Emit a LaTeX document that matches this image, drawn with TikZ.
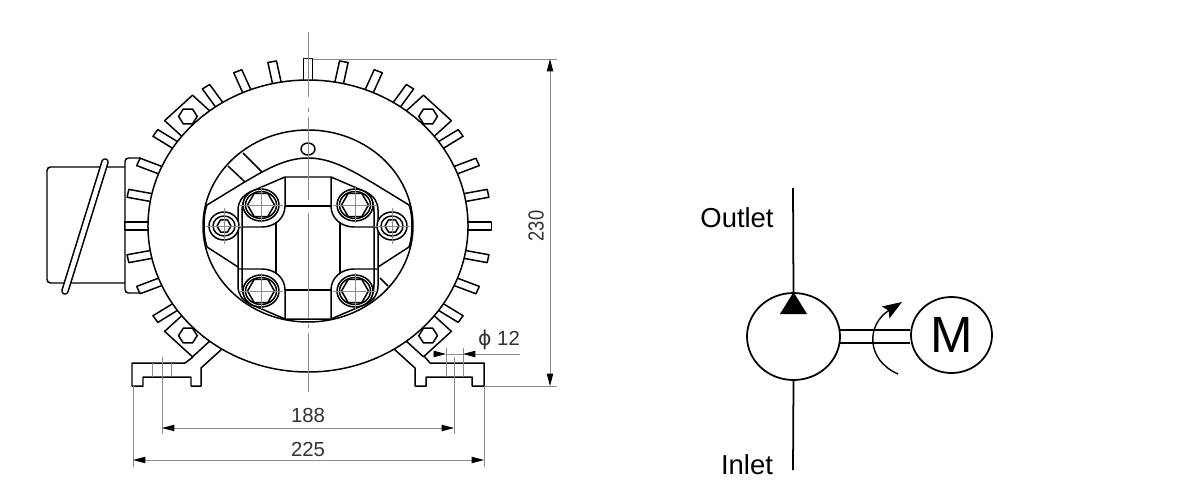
\documentclass[tikz,border=0pt]{standalone}
\usepackage{fontspec}
\setmainfont{Liberation Sans}
\newfontfamily\symfont{DejaVu Sans}
\usetikzlibrary{arrows.meta,shapes.geometric}
\colorlet{dimgray}{black!45}
\colorlet{dimtext}{black!80}
\tikzset{
  part/.style={line width=.85pt,line join=round},
  hair/.style={line width=.4pt,draw=dimgray},
  dimline/.style={line width=.5pt,draw=dimgray,>={Stealth[length=7pt,width=3.6pt,inset=0pt,black]}},
  dimlabel/.style={text=dimtext,inner sep=0pt,font=\fontsize{11.6}{14}\selectfont},
  hydro/.style={line width=1pt},
  hydrolabel/.style={inner sep=0pt,font=\fontsize{15.6}{18}\selectfont},
  ball/.style={draw,ellipse,line width=1pt,inner sep=0pt},
}
\newcommand{\hexnut}[1]{(0:#1) -- (60:#1) -- (120:#1) -- (180:#1) -- (240:#1) -- (300:#1) -- cycle}
\begin{document}
\begin{tikzpicture}[x=0.02cm,y=-0.02cm]
\useasboundingbox (0,0) rectangle (1189,500);
%Terminal box
\draw[part,rounded corners=2pt] (125,167) -- (47,167) -- (47,283) -- (125,283);
\draw[part,rounded corners=2pt] (141,158) -- (125,158) -- (125,293) -- (141,293);
\draw[line width=4.4pt,line cap=round] (105,162) -- (65,291);
\draw[line width=2.6pt,line cap=round,white] (105,162) -- (65,291);
%Housing with fins
\begin{scope}[shift={(308,226)},xscale=1.096]
  \draw[part] (0,0) ellipse[x radius=146,y radius=146];
  \foreach \a in {90,78.75,67.5,56.25,33.75,22.5,11.25,0,-11.25,-22.5,-33.75,101.25,112.5,123.75,146.25,157.5,168.75,180,191.25,202.5,213.75}
    \draw[part,rotate=\a] (146,-4) -- (167.5,-4) -- (167.5,4) -- (146,4);
  \foreach \a in {45,135,225,315}{
    \draw[part,rotate=\a] (145,-18) -- (167,-18) -- (167,18) -- (145,18);
    \draw[part,rotate=\a,shift={(155,0)},rotate=-\a] \hexnut{8.5};
  }
\end{scope}
%Feet
\draw[part] (222,349) -- (201,368) -- (201,386) -- (191,386) -- (191,377) -- (143,377) -- (143,386) -- (132,386) -- (132,363) -- (185,363) -- (193,357);
\draw[part] (394,349) -- (415,368) -- (415,386) -- (426,386) -- (426,377) -- (472,377) -- (472,386) -- (484,386) -- (484,363) -- (430,363) -- (424,356);
\draw[hair] (152,363) -- (152,377) (171,363) -- (171,377);
%Flange
\draw[part] (308,226) ellipse[x radius=105,y radius=96];
\draw[part] (308,158) .. controls (285,158) and (265,170) .. (243,183) -- (207,205) .. controls (203,215) and (203,235) .. (207,247) -- (238,267);
\draw[part] (308,158) .. controls (331,158) and (351,170) .. (373,183) -- (409,205) .. controls (413,215) and (413,235) .. (409,247) -- (378,267);
\draw[part] (228,166) -- (245,182) (243,153) -- (262,172) (380,278) -- (388,286);
\draw[part] (308,149) ellipse[x radius=7,y radius=6];
%Port block
\foreach \sx in {1,-1}{
  \foreach \sy in {1,-1}{
    \begin{scope}[shift={(308,248)},xscale=\sx,yscale=\sy]
      \draw[part] (0,-71) -- (-23,-71) -- (-58,-56) .. controls (-66,-52) and (-70,-46) .. (-70,-38) -- (-70,0);
      \draw[part] (-66,0) -- (-66,-36) .. controls (-66,-44) and (-64,-50) .. (-60,-54);
      \draw[part] (-23,-71) -- (-23,-42) .. controls (-23,-30) and (-33,-21) .. (-46,-21) -- (-70,-21);
      \draw[part] (-23,-42) -- (0,-42) (-32,-26) -- (-32,0);
      \draw[part,fill=white] (-47,-43) ellipse[x radius=18,y radius=16];
      \draw[part] (-47,-43) ellipse[x radius=15.5,y radius=13.5];
      \draw[part,shift={(-47,-43)}] \hexnut{13.5};
      \draw[hair] (-69,-43) -- (-25,-43) (-47,-61) -- (-47,-25);
    \end{scope}
  }
}
%Side screws
\foreach \sx in {1,-1}{
  \begin{scope}[shift={(308,226)},xscale=\sx]
    \draw[part,fill=white] (-84,0) ellipse[x radius=15,y radius=14];
    \draw[part] (-84,0) ellipse[x radius=11,y radius=10];
    \draw[part,shift={(-84,0)}] \hexnut{7};
    \draw[hair] (-102,0) -- (-66,0) (-84,-18) -- (-84,18);
  \end{scope}
}
%Centre line
\draw[dimline] (308,32) -- (308,97) (308,108) -- (308,112) (308,117) -- (308,200) (308,213) -- (308,318) (308,324) -- (308,328) (308,333) -- (308,392);
%Dimensions
\coordinate (toplimit) at (550,59);
\coordinate (botlimit) at (550,386);
\coordinate (leftlimit) at (162,428);
\coordinate (rightlimit) at (454,428);
\coordinate (leftouter) at (133,460);
\coordinate (rightouter) at (484,460);
\coordinate (holeleft) at (446,354);
\coordinate (holeright) at (463,354);
\coordinate (holestart) at (433,354);
\coordinate (holeend) at (520,354);
\draw[dimline] (313,59) -- (557,59) (484,386) -- (557,386);
\draw[dimline,<->] (toplimit) -- (botlimit);
\draw[dimline] (162,357) -- (162,434) (454,357) -- (454,434);
\draw[dimline,<->] (leftlimit) -- (rightlimit);
\draw[dimline] (133,386) -- (133,467) (484,386) -- (484,467);
\draw[dimline,<->] (leftouter) -- (rightouter);
\draw[dimline] (446,348) -- (446,377) (463,348) -- (463,377);
\draw[dimline] (holeleft) -- (holeright);
\draw[dimline,->] (holestart) -- (holeleft);
\draw[dimline,->] (holeend) -- (holeright);
\node[dimlabel,rotate=90] (height) at (536,226) {\fontsize{12.4}{14}\selectfont\scalebox{.84}[1]{230}};
\node[dimlabel] (holes) at (308,415) {188};
\node[dimlabel] (width) at (308,449) {225};
\node[dimlabel] (bore) at (499,340) {{\symfont ϕ} 12};
%Symbol
\node[ball,minimum width=93*0.02cm,minimum height=87*0.02cm] (pump) at (793.5,336.5) {};
\node[ball,minimum width=81*0.02cm,minimum height=76*0.02cm,font=\fontsize{29}{32}\selectfont] (motor) at (951.5,335) {M};
\coordinate (outend) at (793,188);
\coordinate (inend) at (793,470);
\coordinate (turnstart) at (898,374);
\coordinate (turnend) at (902,302);
\draw[hydro] (pump.north) -- (outend);
\draw[hydro] (pump.south) -- (inend);
\draw[hydro] (pump.8) -- (pump.8 -| motor.west);
\draw[hydro] (pump.-8) -- (pump.-8 -| motor.west);
\fill (pump.north) -- (807,314) -- (780,314) -- cycle;
\draw[hydro,line width=.8pt,-{Stealth[length=11pt,width=8pt,inset=2pt]}] (turnstart) .. controls (866,360) and (866,325) .. (turnend);
\node[hydrolabel] (outlet) at (737,218) {Outlet};
\node[hydrolabel] (inlet) at (747,465) {Inlet};
\end{tikzpicture}
\end{document}
